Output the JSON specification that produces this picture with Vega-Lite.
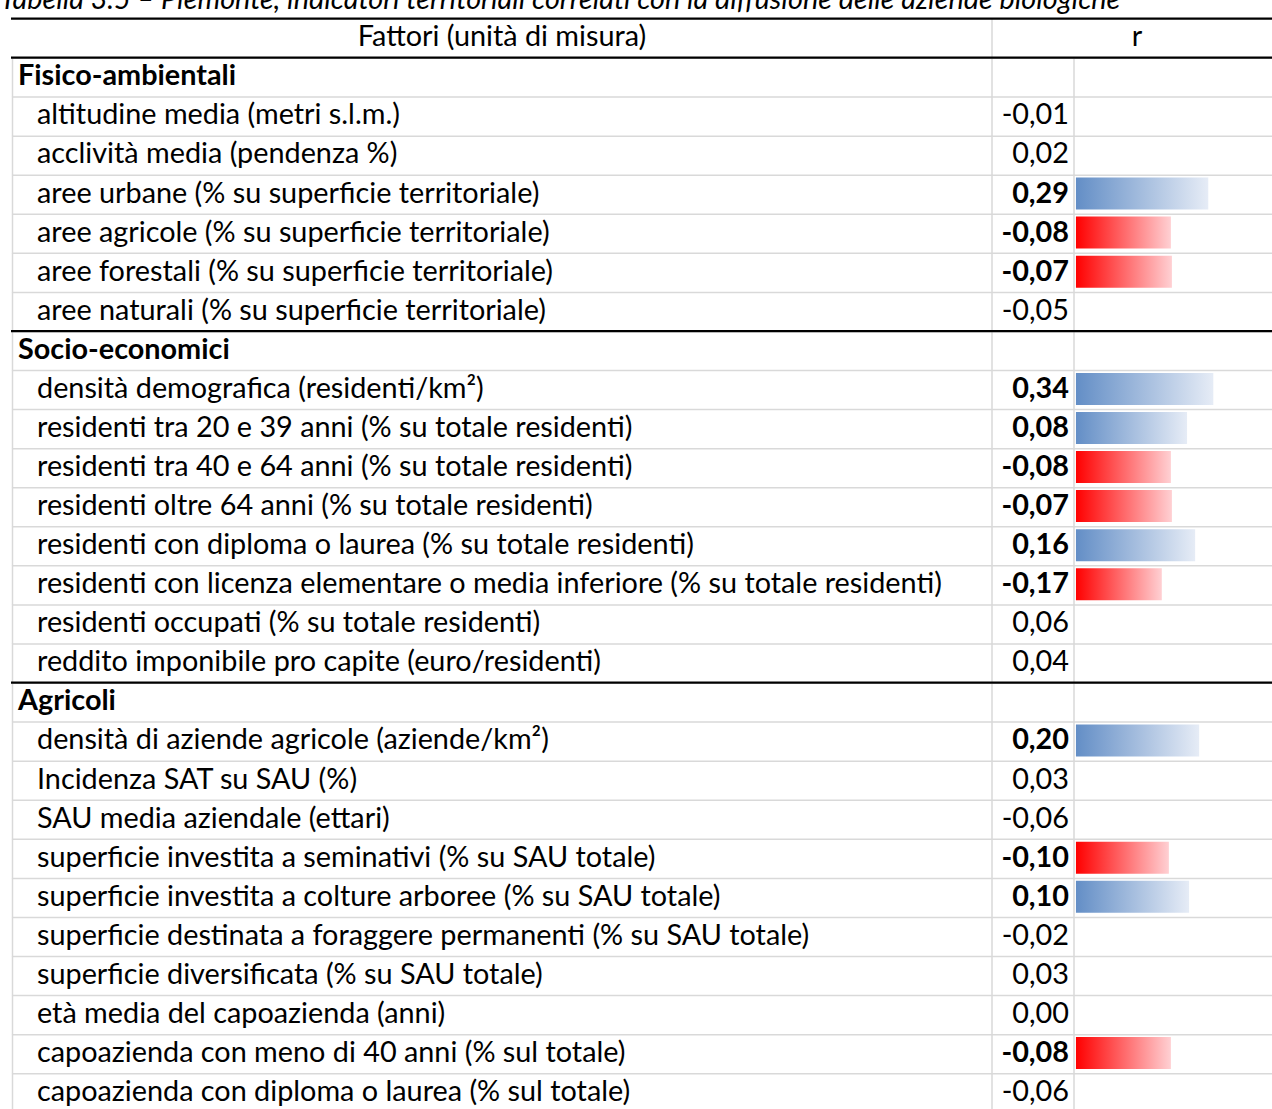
{
  "$schema": "https://vega.github.io/schema/vega-lite/v6.json",
  "width": 1272,
  "height": 1109,
  "autosize": {"type": "fit", "contains": "padding"},
  "padding": 0,
  "background": "white",
  "config": {
    "view": {"stroke": null},
    "locale": {"number": {"decimal": ",", "thousands": ".", "grouping": [3], "currency": ["", " €"], "minus": "-"}},
    "text": {"font": "Lato", "fontSize": 28.8, "color": "#000000"}
  },
  "data": {"values": [
    {"riga": -1, "tipo": "titolo", "fattore": "Tabella 3.5 – Piemonte, indicatori territoriali correlati con la diffusione delle aziende biologiche"},
    {"riga": 0, "tipo": "intestazione", "fattore": "Fattori (unità di misura)", "colonna_r": "r"},
    {"riga": 1, "tipo": "gruppo", "fattore": "Fisico-ambientali"},
    {"riga": 2, "tipo": "fattore", "fattore": "altitudine media (metri s.l.m.)", "r": -0.01, "sig": false},
    {"riga": 3, "tipo": "fattore", "fattore": "acclività media (pendenza %)", "r": 0.02, "sig": false},
    {"riga": 4, "tipo": "fattore", "fattore": "aree urbane (% su superficie territoriale)", "r": 0.29, "sig": true},
    {"riga": 5, "tipo": "fattore", "fattore": "aree agricole (% su superficie territoriale)", "r": -0.08, "sig": true},
    {"riga": 6, "tipo": "fattore", "fattore": "aree forestali (% su superficie territoriale)", "r": -0.07, "sig": true},
    {"riga": 7, "tipo": "fattore", "fattore": "aree naturali (% su superficie territoriale)", "r": -0.05, "sig": false},
    {"riga": 8, "tipo": "gruppo", "fattore": "Socio-economici"},
    {"riga": 9, "tipo": "fattore", "fattore": "densità demografica (residenti/km²)", "r": 0.34, "sig": true},
    {"riga": 10, "tipo": "fattore", "fattore": "residenti tra 20 e 39 anni (% su totale residenti)", "r": 0.08, "sig": true},
    {"riga": 11, "tipo": "fattore", "fattore": "residenti tra 40 e 64 anni (% su totale residenti)", "r": -0.08, "sig": true},
    {"riga": 12, "tipo": "fattore", "fattore": "residenti oltre 64 anni (% su totale residenti)", "r": -0.07, "sig": true},
    {"riga": 13, "tipo": "fattore", "fattore": "residenti con diploma o laurea (% su totale residenti)", "r": 0.16, "sig": true},
    {"riga": 14, "tipo": "fattore", "fattore": "residenti con licenza elementare o media inferiore (% su totale residenti)", "r": -0.17, "sig": true},
    {"riga": 15, "tipo": "fattore", "fattore": "residenti occupati (% su totale residenti)", "r": 0.06, "sig": false},
    {"riga": 16, "tipo": "fattore", "fattore": "reddito imponibile pro capite (euro/residenti)", "r": 0.04, "sig": false},
    {"riga": 17, "tipo": "gruppo", "fattore": "Agricoli"},
    {"riga": 18, "tipo": "fattore", "fattore": "densità di aziende agricole (aziende/km²)", "r": 0.20, "sig": true},
    {"riga": 19, "tipo": "fattore", "fattore": "Incidenza SAT su SAU (%)", "r": 0.03, "sig": false},
    {"riga": 20, "tipo": "fattore", "fattore": "SAU media aziendale (ettari)", "r": -0.06, "sig": false},
    {"riga": 21, "tipo": "fattore", "fattore": "superficie investita a seminativi (% su SAU totale)", "r": -0.10, "sig": true},
    {"riga": 22, "tipo": "fattore", "fattore": "superficie investita a colture arboree (% su SAU totale)", "r": 0.10, "sig": true},
    {"riga": 23, "tipo": "fattore", "fattore": "superficie destinata a foraggere permanenti (% su SAU totale)", "r": -0.02, "sig": false},
    {"riga": 24, "tipo": "fattore", "fattore": "superficie diversificata (% su SAU totale)", "r": 0.03, "sig": false},
    {"riga": 25, "tipo": "fattore", "fattore": "età media del capoazienda (anni)", "r": 0.00, "sig": false},
    {"riga": 26, "tipo": "fattore", "fattore": "capoazienda con meno di 40 anni (% sul totale)", "r": -0.08, "sig": true},
    {"riga": 27, "tipo": "fattore", "fattore": "capoazienda con diploma o laurea (% sul totale)", "r": -0.06, "sig": false}
  ]},
  "encoding": {
    "y": {"field": "riga", "type": "quantitative", "scale": {"domain": [-0.852, 27.28], "reverse": true, "nice": false, "zero": false}, "axis": null}
  },
  "layer": [
    {
      "layer": [
        {
          "transform": [{"filter": "datum.riga >= 0"}],
          "mark": {"type": "rule", "color": "#D9D9D9", "strokeWidth": 1.5, "yOffset": 19.71, "clip": true},
          "encoding": {
            "x": {"datum": 12, "type": "quantitative", "scale": {"domain": [0, 1272], "nice": false, "zero": false}, "axis": null},
            "x2": {"datum": 1272}
          }
        },
        {
          "transform": [{"filter": "datum.riga >= 0"}],
          "mark": {"type": "rule", "color": "#D9D9D9", "strokeWidth": 1.5, "yOffset": -19.71, "y2Offset": 19.71, "clip": true},
          "encoding": {
            "x": {"datum": 992, "type": "quantitative"},
            "y2": {"field": "riga"}
          }
        },
        {
          "transform": [{"filter": "datum.riga >= 1"}],
          "mark": {"type": "rule", "color": "#D9D9D9", "strokeWidth": 1.5, "yOffset": -19.71, "y2Offset": 19.71, "clip": true},
          "encoding": {
            "x": {"datum": 1074, "type": "quantitative"},
            "y2": {"field": "riga"}
          }
        },
        {
          "transform": [{"filter": "datum.riga >= 1"}],
          "mark": {"type": "rule", "color": "#D9D9D9", "strokeWidth": 1.5, "yOffset": -19.71, "y2Offset": 19.71, "clip": true},
          "encoding": {
            "x": {"datum": 12.5, "type": "quantitative"},
            "y2": {"field": "riga"}
          }
        },
        {
          "transform": [{"filter": "datum.tipo == 'intestazione' || datum.tipo == 'gruppo'"}],
          "mark": {"type": "rule", "color": "#000000", "strokeWidth": 2.2, "yOffset": -19.71, "clip": true},
          "encoding": {
            "x": {"datum": 11, "type": "quantitative"},
            "x2": {"datum": 1272}
          }
        },
        {
          "transform": [{"filter": "datum.tipo == 'titolo'"}],
          "mark": {"type": "text", "align": "left", "baseline": "middle", "fontStyle": "italic", "clip": true, "dy": 1},
          "encoding": {
            "x": {"datum": 0, "type": "quantitative"},
            "text": {"field": "fattore", "type": "nominal"}
          }
        },
        {
          "transform": [{"filter": "datum.tipo == 'intestazione'"}],
          "mark": {"type": "text", "align": "center", "baseline": "middle", "clip": true, "dy": -1},
          "encoding": {
            "x": {"datum": 502, "type": "quantitative"},
            "text": {"field": "fattore", "type": "nominal"}
          }
        },
        {
          "transform": [{"filter": "datum.tipo == 'intestazione'"}],
          "mark": {"type": "text", "align": "center", "baseline": "middle", "clip": true, "dy": -1},
          "encoding": {
            "x": {"datum": 1137, "type": "quantitative"},
            "text": {"field": "colonna_r", "type": "nominal"}
          }
        },
        {
          "transform": [{"filter": "datum.tipo == 'gruppo'"}],
          "mark": {"type": "text", "align": "left", "baseline": "middle", "fontWeight": "bold", "clip": true, "dy": -1},
          "encoding": {
            "x": {"datum": 18, "type": "quantitative"},
            "text": {"field": "fattore", "type": "nominal"}
          }
        },
        {
          "transform": [{"filter": "datum.tipo == 'fattore'"}],
          "mark": {"type": "text", "align": "left", "baseline": "middle", "clip": true, "dy": -1},
          "encoding": {
            "x": {"datum": 37, "type": "quantitative"},
            "text": {"field": "fattore", "type": "nominal"}
          }
        },
        {
          "transform": [{"filter": "datum.tipo == 'fattore' && !datum.sig"}],
          "mark": {"type": "text", "align": "right", "baseline": "middle", "clip": true, "dy": -1},
          "encoding": {
            "x": {"datum": 1069, "type": "quantitative"},
            "text": {"field": "r", "type": "quantitative", "format": ".2f"}
          }
        },
        {
          "transform": [{"filter": "datum.tipo == 'fattore' && datum.sig"}],
          "mark": {"type": "text", "align": "right", "baseline": "middle", "fontWeight": "bold", "clip": true, "dy": -1},
          "encoding": {
            "x": {"datum": 1069, "type": "quantitative"},
            "text": {"field": "r", "type": "quantitative", "format": ".2f"}
          }
        }
      ]
    },
    {
      "layer": [
        {
          "transform": [{"filter": "datum.sig && datum.r > 0"}],
          "mark": {"type": "bar", "orient": "horizontal", "height": 32, "clip": true, "yOffset": -1,
                   "color": {"gradient": "linear", "x1": 0, "x2": 1, "y1": 0, "y2": 0, "stops": [{"offset": 0, "color": "#638EC6"}, {"offset": 1, "color": "#E6ECF6"}]}},
          "encoding": {
            "x": {"field": "r", "type": "quantitative", "scale": {"domain": [-11.673, 0.921], "nice": false, "zero": false}, "axis": null},
            "x2": {"datum": -1.02}
          }
        },
        {
          "transform": [{"filter": "datum.sig && datum.r < 0"}],
          "mark": {"type": "bar", "orient": "horizontal", "height": 32, "clip": true, "yOffset": -1,
                   "color": {"gradient": "linear", "x1": 0, "x2": 1, "y1": 0, "y2": 0, "stops": [{"offset": 0, "color": "#FF0000"}, {"offset": 1, "color": "#FFD0D3"}]}},
          "encoding": {
            "x": {"field": "r", "type": "quantitative"},
            "x2": {"datum": -1.02}
          }
        }
      ]
    }
  ],
  "resolve": {"scale": {"x": "independent"}}
}
